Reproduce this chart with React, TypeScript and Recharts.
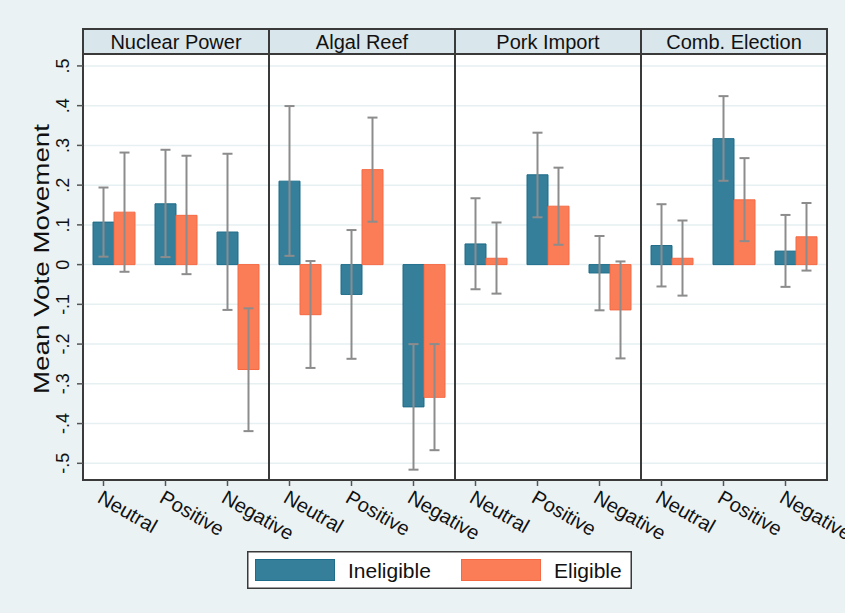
import React from "react";
import {
  ComposedChart,
  Bar,
  ErrorBar,
  XAxis,
  YAxis,
  CartesianGrid,
  ReferenceArea,
  Legend,
} from "recharts";

const panels = ["Nuclear Power", "Algal Reef", "Pork Import", "Comb. Election"];
const tones = ["Neutral", "Positive", "Negative"];

// one entry per panel x tone, in panel order
const ineligibleMean = [0.107, 0.153, 0.082, 0.21, -0.075, -0.358, 0.052, 0.226, -0.021, 0.048, 0.317, 0.034];
const ineligibleLow = [0.02, 0.019, -0.114, 0.022, -0.237, -0.516, -0.062, 0.119, -0.115, -0.055, 0.211, -0.056];
const ineligibleHigh = [0.194, 0.289, 0.279, 0.399, 0.087, -0.2, 0.167, 0.332, 0.072, 0.152, 0.424, 0.125];
const eligibleMean = [0.132, 0.124, -0.264, -0.126, 0.239, -0.334, 0.016, 0.147, -0.114, 0.016, 0.163, 0.07];
const eligibleLow = [-0.018, -0.024, -0.419, -0.26, 0.108, -0.467, -0.073, 0.05, -0.236, -0.078, 0.059, -0.015];
const eligibleHigh = [0.282, 0.274, -0.11, 0.009, 0.37, -0.2, 0.106, 0.244, 0.008, 0.111, 0.268, 0.155];

const yTicks = [-0.5, -0.4, -0.3, -0.2, -0.1, 0, 0.1, 0.2, 0.3, 0.4, 0.5];

const BG = "#EAF2F3";
const STRIP_FILL = "#D9E6EB";
const FRAME = "#3A3A3A";
const GRID = "#E6EFF2";
const WHISKER = "#8C8C8C";
const FONT = '"Liberation Sans", Arial, Helvetica, sans-serif';
const BAR_SIZE = 21;
const Y_TOP = 0.53;
const Y_BOTTOM = -0.542;
const STRIP = 0.063;

const series = [
  { key: "ineligible", name: "Ineligible", fill: "#357F9B", stroke: "#1D6C89" },
  { key: "eligible", name: "Eligible", fill: "#FB7D58", stroke: "#F46A45" },
];

const rows = panels.flatMap((panel, p) =>
  tones.map((tone, t) => {
    const i = p * 3 + t;
    return {
      id: `${panel}|${tone}`,
      ineligible: ineligibleMean[i],
      eligible: eligibleMean[i],
      ineligibleErr: [ineligibleMean[i] - ineligibleLow[i], ineligibleHigh[i] - ineligibleMean[i]],
      eligibleErr: [eligibleMean[i] - eligibleLow[i], eligibleHigh[i] - eligibleMean[i]],
    };
  })
);

const fmtTick = (v: number) =>
  v === 0 ? "0" : (v < 0 ? "-" : "") + String(Math.abs(v)).replace(/^0/, "");

const ToneTick = (props: any) => {
  const { x, y, payload } = props;
  // ticks sit under the first bar of each group
  const tx = x - BAR_SIZE / 2;
  const label = String(payload.value).split("|")[1];
  return (
    <g>
      <line x1={tx} x2={tx} y1={y - 8} y2={y - 2} stroke="#555" strokeWidth={1.5} />
      <text
        x={tx}
        y={y + 1}
        dy="0.72em"
        transform={`rotate(30, ${tx}, ${y + 1})`}
        fontSize={20}
        fill="#111"
        fontFamily={FONT}
      >
        {label}
      </text>
    </g>
  );
};

const ValueTick = (props: any) => {
  const { x, y, payload } = props;
  const bx = x - 6;
  return (
    <text
      x={bx}
      y={y}
      textAnchor="middle"
      transform={`rotate(-90, ${bx}, ${y})`}
      fontSize={18}
      fill="#111"
      fontFamily={FONT}
    >
      {fmtTick(payload.value)}
    </text>
  );
};

const AxisTitle = (props: any) => {
  const { viewBox } = props;
  const tx = viewBox.x + 26;
  const ty = viewBox.y + viewBox.height / 2 - 8;
  return (
    <text
      x={tx}
      y={ty}
      textAnchor="middle"
      transform={`rotate(-90, ${tx}, ${ty})`}
      fontSize={22}
      textLength={270}
      lengthAdjust="spacingAndGlyphs"
      fill="#111"
      fontFamily={FONT}
    >
      Mean Vote Movement
    </text>
  );
};

const KeyBox = () => (
  <svg width={385} height={38}>
    <rect x={0.75} y={0.75} width={383.5} height={36.5} fill="#fff" stroke={FRAME} strokeWidth={1.5} />
    {series.map((s, i) => (
      <g key={s.key} transform={`translate(${8 + i * 206}, 0)`}>
        <rect x={0.5} y={8.5} width={79} height={21} fill={s.fill} stroke={s.stroke} strokeWidth={1} />
        <text x={93} y={27} fontSize={21} fill="#111" fontFamily={FONT}>
          {s.name}
        </text>
      </g>
    ))}
  </svg>
);

export default function App() {
  return (
    <div
      style={{
        position: "absolute",
        left: 0,
        top: 0,
        width: 845,
        height: 613,
        background: BG,
        fontFamily: FONT,
        overflow: "hidden",
      }}
    >
      <ComposedChart
        width={845}
        height={613}
        data={rows}
        margin={{ top: 54, right: 18, bottom: 73, left: 23 }}
        barGap={0}
        barSize={BAR_SIZE}
      >
        <CartesianGrid
          vertical={false}
          stroke={GRID}
          strokeWidth={1.5}
          fill="#fff"
          fillOpacity={1}
        />
        <XAxis
          dataKey="id"
          type="category"
          interval={0}
          height={60}
          axisLine={false}
          tickLine={false}
          tickSize={6}
          tickMargin={2}
          tick={<ToneTick />}
        />
        <YAxis
          type="number"
          domain={[Y_BOTTOM, Y_TOP]}
          ticks={yTicks}
          allowDataOverflow
          width={60}
          axisLine={false}
          tickLine={{ stroke: "#555", strokeWidth: 1.5 }}
          tickSize={6}
          tickMargin={2}
          tick={<ValueTick />}
          label={<AxisTitle />}
        />
        {panels.map((panel) => (
          <ReferenceArea
            key={`frame-${panel}`}
            x1={`${panel}|${tones[0]}`}
            x2={`${panel}|${tones[2]}`}
            fill="none"
            stroke={FRAME}
            strokeWidth={2}
            ifOverflow="visible"
          />
        ))}
        {panels.map((panel) => (
          <ReferenceArea
            key={`strip-${panel}`}
            x1={`${panel}|${tones[0]}`}
            x2={`${panel}|${tones[2]}`}
            y1={Y_TOP}
            y2={Y_TOP + STRIP}
            fill={STRIP_FILL}
            fillOpacity={1}
            stroke={FRAME}
            strokeWidth={2}
            ifOverflow="visible"
            label={{ value: panel, position: "center", fontSize: 20, fill: "#111", fontFamily: FONT }}
          />
        ))}
        {series.map((s) => (
          <Bar
            key={s.key}
            dataKey={s.key}
            name={s.name}
            fill={s.fill}
            stroke={s.stroke}
            strokeWidth={1}
            isAnimationActive={false}
          >
            <ErrorBar
              dataKey={`${s.key}Err`}
              direction="y"
              width={5}
              stroke={WHISKER}
              strokeWidth={2}
              isAnimationActive={false}
            />
          </Bar>
        ))}
        <Legend
          layout="horizontal"
          verticalAlign="middle"
          align="center"
          content={<KeyBox />}
          wrapperStyle={{ left: 247, top: 551, width: 385, height: 38 }}
        />
      </ComposedChart>
    </div>
  );
}
